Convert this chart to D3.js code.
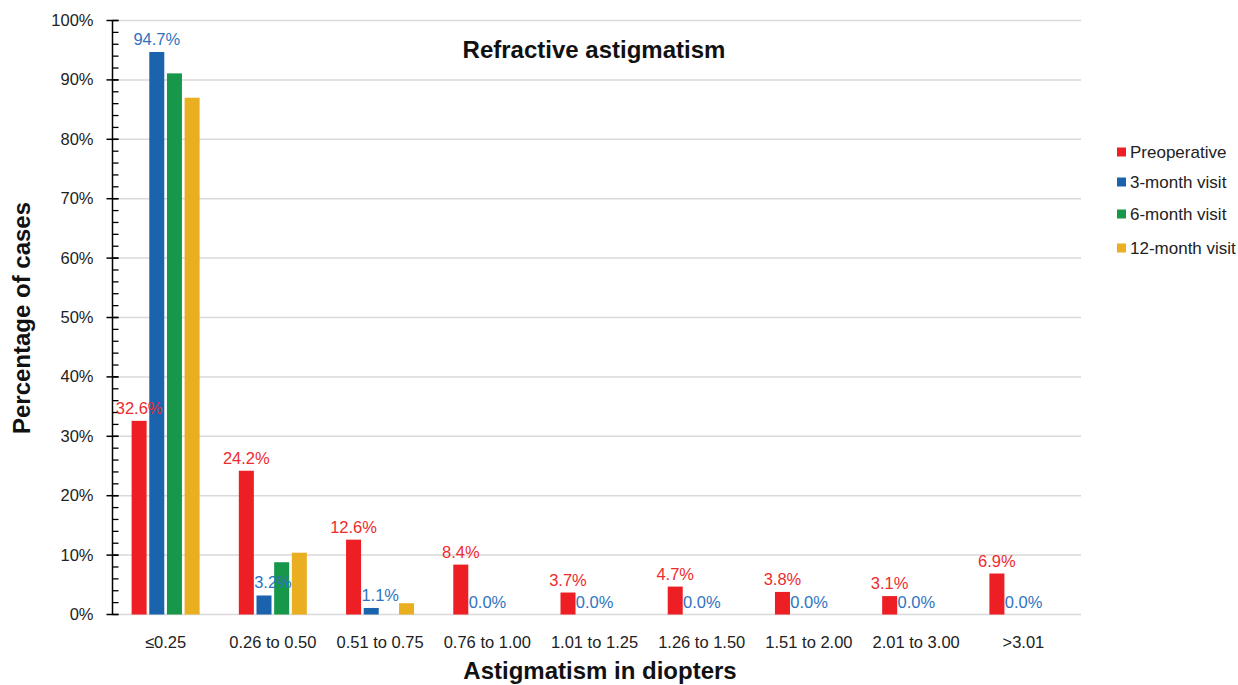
<!DOCTYPE html>
<html>
<head>
<meta charset="utf-8">
<script src="https://cdn.jsdelivr.net/npm/d3@7"></script>
<style>
  body { margin: 0; background: #fff; }
  text { font-family: "Liberation Sans", Arial, sans-serif; }
</style>
</head>
<body>
<div id="chart"></div>
<script>
const categories = ["\u22640.25", "0.26 to 0.50", "0.51 to 0.75", "0.76 to 1.00", "1.01 to 1.25",
    "1.26 to 1.50", "1.51 to 2.00", "2.01 to 3.00", ">3.01"];
const seriesNames = ["Preoperative", "3-month visit", "6-month visit", "12-month visit"];
const preoperative = [32.6, 24.2, 12.6, 8.4, 3.7, 4.7, 3.8, 3.1, 6.9];
const month3 = [94.7, 3.2, 1.1, 0, 0, 0, 0, 0, 0];
const month6 = [91.1, 8.8, 0, 0, 0, 0, 0, 0, 0];
const month12 = [87.0, 10.4, 1.9, 0, 0, 0, 0, 0, 0];
const yTicks = [0, 10, 20, 30, 40, 50, 60, 70, 80, 90, 100];

const colors = ["#ed1f24", "#1c63ae", "#16974a", "#e9af20"];
const labelColors = ["#ee2a2e", "#2f74c0"];

const width = 1238, height = 685;
const plotLeft = 112.5, plotRight = 1081, plotTop = 20.5, plotBottom = 614.5;

const svg = d3.select("#chart").append("svg")
    .attr("width", width)
    .attr("height", height);

const x = d3.scaleBand().domain(categories).range([112, 1077]);
const x1 = d3.scaleBand().domain(seriesNames).range([0, 68]).paddingInner(0.15);
const y = d3.scaleLinear().domain([0, 100]).range([plotBottom, plotTop]);

// gridlines
svg.append("g")
    .selectAll("line")
    .data(yTicks)
    .enter()
    .append("line")
    .attr("x1", plotLeft)
    .attr("x2", plotRight)
    .attr("y1", d => y(d))
    .attr("y2", d => y(d))
    .attr("stroke", "#d9d9d9")
    .attr("stroke-width", 1.5);

// bars
const allSeries = [preoperative, month3, month6, month12];
const rows = [];
allSeries.forEach((vals, si) => {
    vals.forEach((v, ci) => rows.push({ s: si, c: categories[ci], v: v }));
});

svg.append("g")
    .selectAll("rect")
    .data(rows)
    .enter()
    .append("rect")
    .attr("x", d => x(d.c) + x.bandwidth() / 2 - 34 + x1(seriesNames[d.s]))
    .attr("y", d => y(d.v))
    .attr("width", x1.bandwidth())
    .attr("height", d => plotBottom - y(d.v))
    .attr("fill", d => colors[d.s]);

// y axis with minor ticks
const yAxis = svg.append("g").attr("transform", `translate(${plotLeft},0)`);
yAxis.append("line")
    .attr("y1", plotTop).attr("y2", plotBottom)
    .attr("stroke", "#000").attr("stroke-width", 1.5);
yAxis.selectAll(".minor")
    .data(d3.range(0, 101, 2))
    .enter()
    .append("line")
    .attr("class", "minor")
    .attr("x1", 0).attr("x2", 6)
    .attr("y1", d => y(d)).attr("y2", d => y(d))
    .attr("stroke", "#000").attr("stroke-width", 1.3);
yAxis.selectAll(".major")
    .data(yTicks)
    .enter()
    .append("line")
    .attr("class", "major")
    .attr("x1", -6).attr("x2", 6)
    .attr("y1", d => y(d)).attr("y2", d => y(d))
    .attr("stroke", "#000").attr("stroke-width", 1.5);
yAxis.selectAll("text")
    .data(yTicks)
    .enter()
    .append("text")
    .attr("x", -19)
    .attr("y", d => y(d) + 5.5)
    .attr("text-anchor", "end")
    .style("font-size", "16.5px")
    .attr("fill", "#222")
    .text(d => d + "%");

// x category labels
svg.append("g")
    .selectAll("text")
    .data(categories)
    .enter()
    .append("text")
    .attr("x", d => x(d) + x.bandwidth() / 2)
    .attr("y", 648)
    .attr("text-anchor", "middle")
    .style("font-size", "16.5px")
    .attr("fill", "#222")
    .text(d => d);

// data labels (preoperative and 3-month)
const labelRows = rows.filter(d => d.s < 2);
svg.append("g")
    .selectAll("text")
    .data(labelRows)
    .enter()
    .append("text")
    .attr("x", d => x(d.c) + x.bandwidth() / 2 - 34 + x1(seriesNames[d.s]) + x1.bandwidth() / 2
        + (d.s === 1 && d.v < 5 ? 9 : 0))
    .attr("y", d => y(d.v) - 7)
    .attr("text-anchor", "middle")
    .style("font-size", "16.5px")
    .attr("fill", d => labelColors[d.s])
    .text(d => d.v.toFixed(1) + "%");

// title
svg.append("text")
    .attr("x", 594)
    .attr("y", 58)
    .attr("text-anchor", "middle")
    .style("font-size", "24px")
    .style("font-weight", "bold")
    .attr("fill", "#111")
    .text("Refractive astigmatism");

// axis titles
svg.append("text")
    .attr("x", 600)
    .attr("y", 679)
    .attr("text-anchor", "middle")
    .style("font-size", "24px")
    .style("font-weight", "bold")
    .attr("fill", "#111")
    .text("Astigmatism in diopters");

svg.append("text")
    .attr("transform", "rotate(-90)")
    .attr("x", -318)
    .attr("y", 30)
    .attr("text-anchor", "middle")
    .style("font-size", "24px")
    .style("font-weight", "bold")
    .attr("fill", "#111")
    .text("Percentage of cases");

// legend
const legendY = [152, 182, 214, 248];
const legend = svg.append("g")
    .selectAll("g")
    .data(seriesNames)
    .enter()
    .append("g")
    .attr("transform", (d, i) => `translate(1117,${legendY[i]})`);
legend.append("rect")
    .attr("x", 0).attr("y", -4.5)
    .attr("width", 9).attr("height", 9)
    .attr("fill", (d, i) => colors[i]);
legend.append("text")
    .attr("x", 13)
    .attr("y", 6)
    .style("font-size", "17px")
    .attr("fill", "#222")
    .text(d => d);
</script>
</body>
</html>
